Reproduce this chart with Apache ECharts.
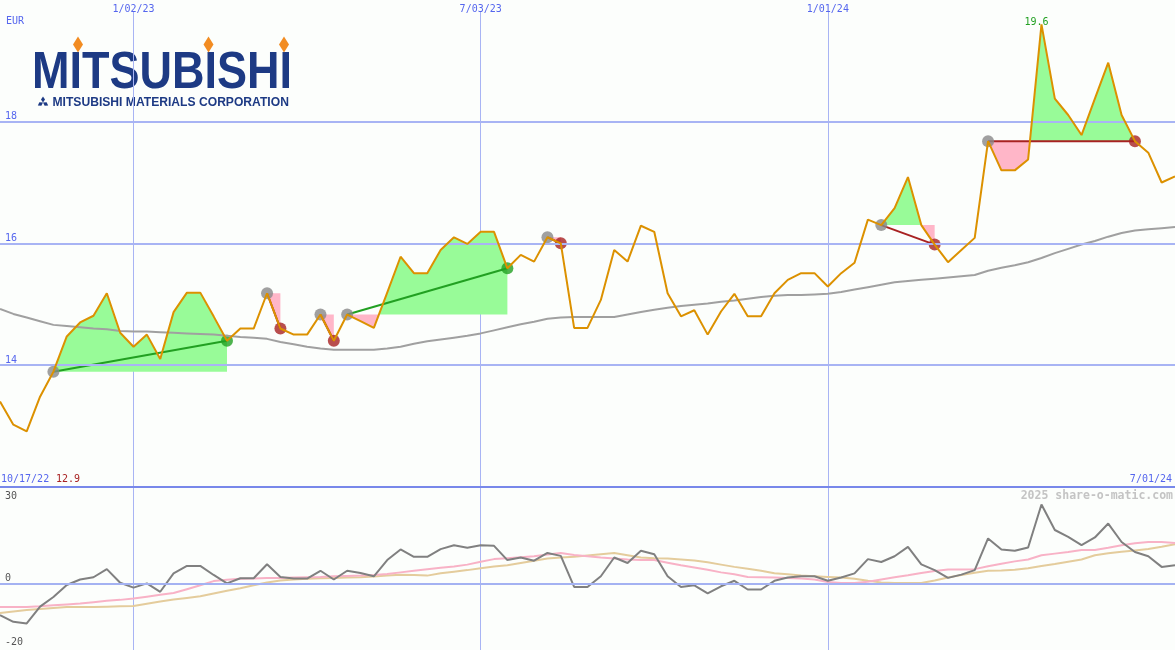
<!DOCTYPE html>
<html><head><meta charset="utf-8">
<script src="https://cdn.jsdelivr.net/npm/echarts@6/dist/echarts.min.js"></script>
<style>html,body{margin:0;padding:0;background:#fcfefc}#c{width:1175px;height:650px}</style>
</head><body><div id="c"></div>
<script>
// ---- data ----
const firstWeek = [2022, 9, 24];           // first plotted weekly close (Mon 10/24/22)
const weekCount = 89;
const startLabel = '10/17/22';
const currency = 'EUR';
const gridDates = ['1/02/23', '7/03/23', '1/01/24'];
const mainTicks = [14, 16, 18];
const lowerTicks = [30, 0, -20];

const price = [13.40,13.02,12.91,13.48,13.89,14.47,14.70,14.81,15.18,14.53,
  14.30,14.50,14.10,14.87,15.19,15.19,14.80,14.40,14.60,14.60,
  15.18,14.60,14.50,14.50,14.83,14.40,14.83,14.72,14.61,15.19,
  15.78,15.51,15.51,15.89,16.10,15.99,16.19,16.19,15.59,15.81,
  15.70,16.10,16.00,14.61,14.61,15.07,15.89,15.70,16.29,16.19,
  15.18,14.80,14.90,14.50,14.88,15.17,14.80,14.80,15.18,15.40,
  15.51,15.51,15.29,15.51,15.68,16.39,16.30,16.58,17.09,16.30,
  15.98,15.69,15.89,16.09,17.68,17.20,17.20,17.38,19.60,18.38,
  18.11,17.78,18.38,18.97,18.11,17.68,17.49,17.00,17.10];

const movingAvg = [14.92,14.84,14.78,14.72,14.66,14.64,14.62,14.60,14.59,14.56,
  14.55,14.55,14.54,14.53,14.52,14.51,14.50,14.48,14.46,14.45,
  14.43,14.38,14.34,14.30,14.27,14.25,14.25,14.25,14.25,14.27,
  14.30,14.35,14.39,14.42,14.45,14.48,14.52,14.57,14.62,14.67,
  14.71,14.76,14.78,14.79,14.79,14.79,14.79,14.83,14.87,14.91,
  14.94,14.97,14.99,15.01,15.04,15.06,15.09,15.12,15.14,15.15,
  15.15,15.16,15.17,15.20,15.24,15.28,15.32,15.36,15.38,15.40,
  15.42,15.44,15.46,15.48,15.55,15.60,15.64,15.69,15.76,15.84,
  15.91,15.98,16.04,16.11,16.17,16.21,16.23,16.25,16.27];

const momentum = [-9.6,-11.7,-12.2,-7.0,-4.0,-0.3,1.4,2.1,4.6,0.4,
  -1.1,0.2,-2.4,3.3,5.6,5.6,2.8,0.2,1.8,1.8,
  6.1,2.2,1.7,1.7,4.1,1.4,4.1,3.4,2.4,7.4,
  10.7,8.4,8.4,10.8,12.0,11.2,12.0,11.8,7.4,8.2,
  7.2,9.6,8.7,-0.9,-0.9,2.4,8.2,6.5,10.3,9.2,
  2.4,-0.9,-0.4,-2.9,-0.7,1.0,-1.7,-1.7,1.0,2.0,
  2.4,2.4,1.0,2.0,3.3,7.7,6.8,8.6,11.5,6.1,
  4.3,1.9,2.9,4.3,14.1,10.7,10.3,11.3,24.6,16.7,
  14.6,12.0,14.4,18.7,13.0,9.9,8.6,5.3,5.8];

const signalPink = [-7.1,-7.1,-7.1,-6.9,-6.6,-6.3,-6.0,-5.6,-5.2,-4.9,
  -4.5,-3.9,-3.3,-2.8,-1.6,-0.4,0.9,1.3,1.6,1.7,
  1.9,1.9,2.0,2.1,2.2,2.4,2.5,2.6,2.8,3.1,
  3.6,4.1,4.6,5.0,5.4,6.0,6.9,7.7,8.0,8.3,
  8.6,9.1,9.6,9.0,8.6,8.2,7.9,7.6,7.4,7.4,
  6.6,5.8,5.1,4.4,3.6,3.0,2.2,2.1,2.0,1.9,
  1.7,1.4,0.6,0.3,0.3,0.7,1.4,2.1,2.7,3.4,
  4.0,4.5,4.5,4.6,5.5,6.3,7.0,7.6,8.9,9.4,
  9.9,10.5,10.5,11.2,12.0,12.6,13.0,13.0,12.7];

const signalTan = [-9.0,-8.5,-8.0,-7.7,-7.4,-7.1,-7.1,-7.1,-7.0,-6.9,
  -6.8,-6.1,-5.4,-4.8,-4.3,-3.8,-2.9,-2.1,-1.3,-0.4,
  0.5,1.1,1.4,1.6,1.8,1.9,2.0,2.1,2.3,2.6,
  2.9,2.8,2.6,3.3,3.8,4.3,4.9,5.4,5.8,6.5,
  7.2,7.9,8.2,8.4,8.8,9.2,9.6,8.9,8.2,8.0,
  7.9,7.6,7.3,6.7,6.0,5.3,4.7,4.1,3.3,3.0,
  2.6,2.4,2.2,2.0,1.6,1.0,0.5,0.3,0.3,0.3,
  1.1,2.0,2.8,3.5,4.1,4.2,4.4,4.9,5.6,6.2,
  6.9,7.6,8.9,9.5,10.0,10.4,10.8,11.5,12.3];

// trend segments (week index of start / end)
const segStart = [4, 20, 24, 26, 41, 66, 74];
const segEnd   = [17, 21, 25, 38, 42, 70, 85];

// ---- derived categories ----
const dates = [];
for (let i = 0; i < weekCount; i++) {
  const d = new Date(Date.UTC(firstWeek[0], firstWeek[1], firstWeek[2] + 7 * i));
  dates.push((d.getUTCMonth() + 1) + '/' + String(d.getUTCDate()).padStart(2, '0') + '/' + String(d.getUTCFullYear() % 100).padStart(2, '0'));
}

// ---- styles ----
const MONO = '"DejaVu Sans Mono", monospace';
const BLUE_TXT = '#5566ee';
const GRID_C = '#a8b4f4';
const GREEN = '#22a022';
const RED = '#a82222';
const NAVY = '#1d3a84';
const ORANGE = '#f28c22';

const isGridDate = (i, v) => gridDates.includes(v);

const chart = echarts.init(document.getElementById('c'), null, {renderer: 'canvas'});

function diamond(cx, cy, hw, hh) {
  return [[cx, cy - hh], [cx + hw, cy], [cx, cy + hh], [cx - hw, cy]];
}
function rhomb(cx, cy, ang, len, w) {
  const dx = Math.cos(ang), dy = Math.sin(ang), nx = -dy, ny = dx;
  return [[cx, cy], [cx + dx * len / 2 + nx * w, cy + dy * len / 2 + ny * w],
          [cx + dx * len, cy + dy * len], [cx + dx * len / 2 - nx * w, cy + dy * len / 2 - ny * w]];
}

const option = {
  animation: false,
  backgroundColor: '#fcfefc',
  grid: [
    {left: 0, right: 0, top: 12, height: 474.7},
    {left: 0, right: 0, top: 487, height: 163}
  ],
  xAxis: [
    {type: 'category', gridIndex: 0, data: dates, boundaryGap: false, position: 'top',
     axisLine: {show: false, onZero: false}, axisTick: {show: false},
     axisLabel: {interval: isGridDate, color: BLUE_TXT, fontFamily: MONO, fontSize: 10, margin: -2},
     splitLine: {show: true, interval: isGridDate, lineStyle: {color: GRID_C, width: 1}}},
    {type: 'category', gridIndex: 1, data: dates, boundaryGap: false, position: 'top',
     axisLine: {show: true, onZero: false, lineStyle: {color: '#7888ea', width: 2}}, axisTick: {show: false},
     axisLabel: {show: false},
     splitLine: {show: true, interval: isGridDate, lineStyle: {color: GRID_C, width: 1}}}
  ],
  yAxis: [
    {type: 'value', gridIndex: 0, min: 12, max: 19.803, interval: 2,
     axisLine: {show: false}, axisTick: {show: false}, splitLine: {show: false},
     axisLabel: {inside: true, margin: 5, verticalAlign: 'bottom', color: BLUE_TXT, fontFamily: MONO, fontSize: 10,
       formatter: v => mainTicks.includes(v) ? String(v) : ''}},
    {type: 'value', gridIndex: 1, min: -20.4, max: 30,
     axisLine: {show: false}, axisTick: {show: false}, splitLine: {show: false},
     axisLabel: {inside: true, margin: 5, verticalAlign: 'middle', color: '#555555', fontFamily: MONO, fontSize: 10,
       formatter: v => lowerTicks.includes(v) ? (v === 30 ? '{a|30}' : '{b|' + v + '}') : '',
       rich: {a: {padding: [18, 0, 0, 0], fontFamily: MONO, fontSize: 10, color: '#555555'},
              b: {padding: [0, 0, 12, 0], fontFamily: MONO, fontSize: 10, color: '#555555'}}}}
  ],
  series: [
    // horizontal grid lines of the price panel
    {type: 'line', xAxisIndex: 0, yAxisIndex: 0, data: [], z: 0, silent: true,
     markLine: {silent: true, symbol: 'none', label: {show: false},
       lineStyle: {color: GRID_C, width: 2, type: 'solid'},
       data: mainTicks.map(v => ({yAxis: v}))}},
    // trend fills + trend lines
    {type: 'custom', xAxisIndex: 0, yAxisIndex: 0, z: 1, silent: true,
     data: segStart.map((s, i) => [s, segEnd[i]]),
     renderItem: (params, api) => {
       const s = api.value(0), e = api.value(1);
       const pts = [];
       for (let k = s; k <= e; k++) pts.push(api.coord([k, price[k]]));
       const by = pts[0][1];
       const L = [pts[0]];
       for (let j = 1; j < pts.length; j++) {
         const a = pts[j - 1], b = pts[j];
         if ((a[1] - by) * (b[1] - by) < 0) {
           const t = (by - a[1]) / (b[1] - a[1]);
           L.push([a[0] + t * (b[0] - a[0]), by]);
         }
         L.push(b);
       }
       const x0 = L[0][0], x1 = L[L.length - 1][0];
       const up = L.map(p => [p[0], Math.min(p[1], by)]).concat([[x1, by], [x0, by]]);
       const dn = L.map(p => [p[0], Math.max(p[1], by)]).concat([[x1, by], [x0, by]]);
       const endP = pts[pts.length - 1];
       const rising = price[e] > price[s];
       return {type: 'group', children: [
         {type: 'polygon', shape: {points: up}, style: {fill: '#98fb98'}},
         {type: 'polygon', shape: {points: dn}, style: {fill: '#ffb6c8'}},
         {type: 'line', shape: {x1: pts[0][0], y1: by, x2: endP[0], y2: endP[1]},
          style: {stroke: rising ? GREEN : RED, lineWidth: 2}}
       ]};
     }},
    // segment dots
    {type: 'scatter', xAxisIndex: 0, yAxisIndex: 0, z: 3, symbolSize: 12, silent: true,
     data: segStart.map(s => ({value: [s, price[s]], itemStyle: {color: '#888888'}}))
       .concat(segEnd.map((e, i) => ({value: [e, price[e]],
         itemStyle: {color: price[e] > price[segStart[i]] ? GREEN : RED}})))},
    // moving average
    {type: 'line', xAxisIndex: 0, yAxisIndex: 0, data: movingAvg, z: 4, symbol: 'none', silent: true,
     lineStyle: {color: '#a0a0a0', width: 2}},
    // price
    {type: 'line', xAxisIndex: 0, yAxisIndex: 0, data: price, z: 5, symbol: 'none', silent: true,
     lineStyle: {color: '#dc9100', width: 2},
     markPoint: {symbol: 'circle', symbolSize: 0, silent: true,
       label: {show: true, position: 'top', distance: 0, offset: [-5, 3], color: GREEN, fontFamily: MONO, fontSize: 10,
         formatter: p => Number(p.value).toFixed(1)},
       data: [{type: 'max'}]}},
    // lower panel
    {type: 'line', xAxisIndex: 1, yAxisIndex: 1, data: [], z: 0, silent: true,
     markLine: {silent: true, symbol: 'none', label: {show: false},
       lineStyle: {color: '#a4b2f2', width: 2, type: 'solid'}, data: [{yAxis: 0}]}},
    {type: 'line', xAxisIndex: 1, yAxisIndex: 1, data: signalTan, z: 2, symbol: 'none', silent: true,
     lineStyle: {color: '#e4cc9c', width: 2}},
    {type: 'line', xAxisIndex: 1, yAxisIndex: 1, data: signalPink, z: 3, symbol: 'none', silent: true,
     lineStyle: {color: '#f8b2c6', width: 2}},
    {type: 'line', xAxisIndex: 1, yAxisIndex: 1, data: momentum, z: 4, symbol: 'none', silent: true,
     lineStyle: {color: '#808080', width: 2}}
  ],
  graphic: [
    {type: 'text', x: 6, y: 21.5, style: {text: currency, fill: BLUE_TXT, font: '10px ' + MONO, verticalAlign: 'middle', textVerticalAlign: 'middle'}},
    {type: 'text', x: 1, y: 479, style: {text: startLabel, fill: BLUE_TXT, font: '10px ' + MONO, verticalAlign: 'middle', textVerticalAlign: 'middle'}},
    {type: 'text', x: 56, y: 479, style: {text: Math.min(...price).toFixed(1), fill: RED, font: '10px ' + MONO, verticalAlign: 'middle', textVerticalAlign: 'middle'}},
    {type: 'text', x: 1172, y: 479, style: {text: dates[dates.length - 1], fill: BLUE_TXT, font: '10px ' + MONO, align: 'right', textAlign: 'right', verticalAlign: 'middle', textVerticalAlign: 'middle'}},
    {type: 'text', x: 1173, y: 496, style: {text: '2025 share-o-matic.com', fill: '#c4c4c4', font: 'bold 11.5px ' + MONO, align: 'right', textAlign: 'right', verticalAlign: 'middle', textVerticalAlign: 'middle'}},
    // logo
    {type: 'text', x: 32, y: 74, scaleX: 0.865, style: {text: 'MITSUBISHI', fill: NAVY, font: 'bold 52px "Liberation Sans", Arial, sans-serif', verticalAlign: 'middle', textVerticalAlign: 'middle'}},
    {type: 'polygon', shape: {points: diamond(78, 44.5, 5, 8)}, style: {fill: ORANGE}},
    {type: 'polygon', shape: {points: diamond(208.5, 44.5, 5, 8)}, style: {fill: ORANGE}},
    {type: 'polygon', shape: {points: diamond(284, 44.5, 5, 8)}, style: {fill: ORANGE}},
    {type: 'text', x: 52.5, y: 102.2, scaleX: 0.925, style: {text: 'MITSUBISHI MATERIALS CORPORATION', fill: NAVY, font: 'bold 13.1px "Liberation Sans", Arial, sans-serif', verticalAlign: 'middle', textVerticalAlign: 'middle'}},
    {type: 'polygon', shape: {points: rhomb(43, 102.5, -Math.PI / 2, 6, 2)}, style: {fill: NAVY}},
    {type: 'polygon', shape: {points: rhomb(43, 102.5, Math.PI * 5 / 6, 6, 2)}, style: {fill: NAVY}},
    {type: 'polygon', shape: {points: rhomb(43, 102.5, Math.PI / 6, 6, 2)}, style: {fill: NAVY}}
  ]
};
chart.setOption(option);
</script>
</body></html>
